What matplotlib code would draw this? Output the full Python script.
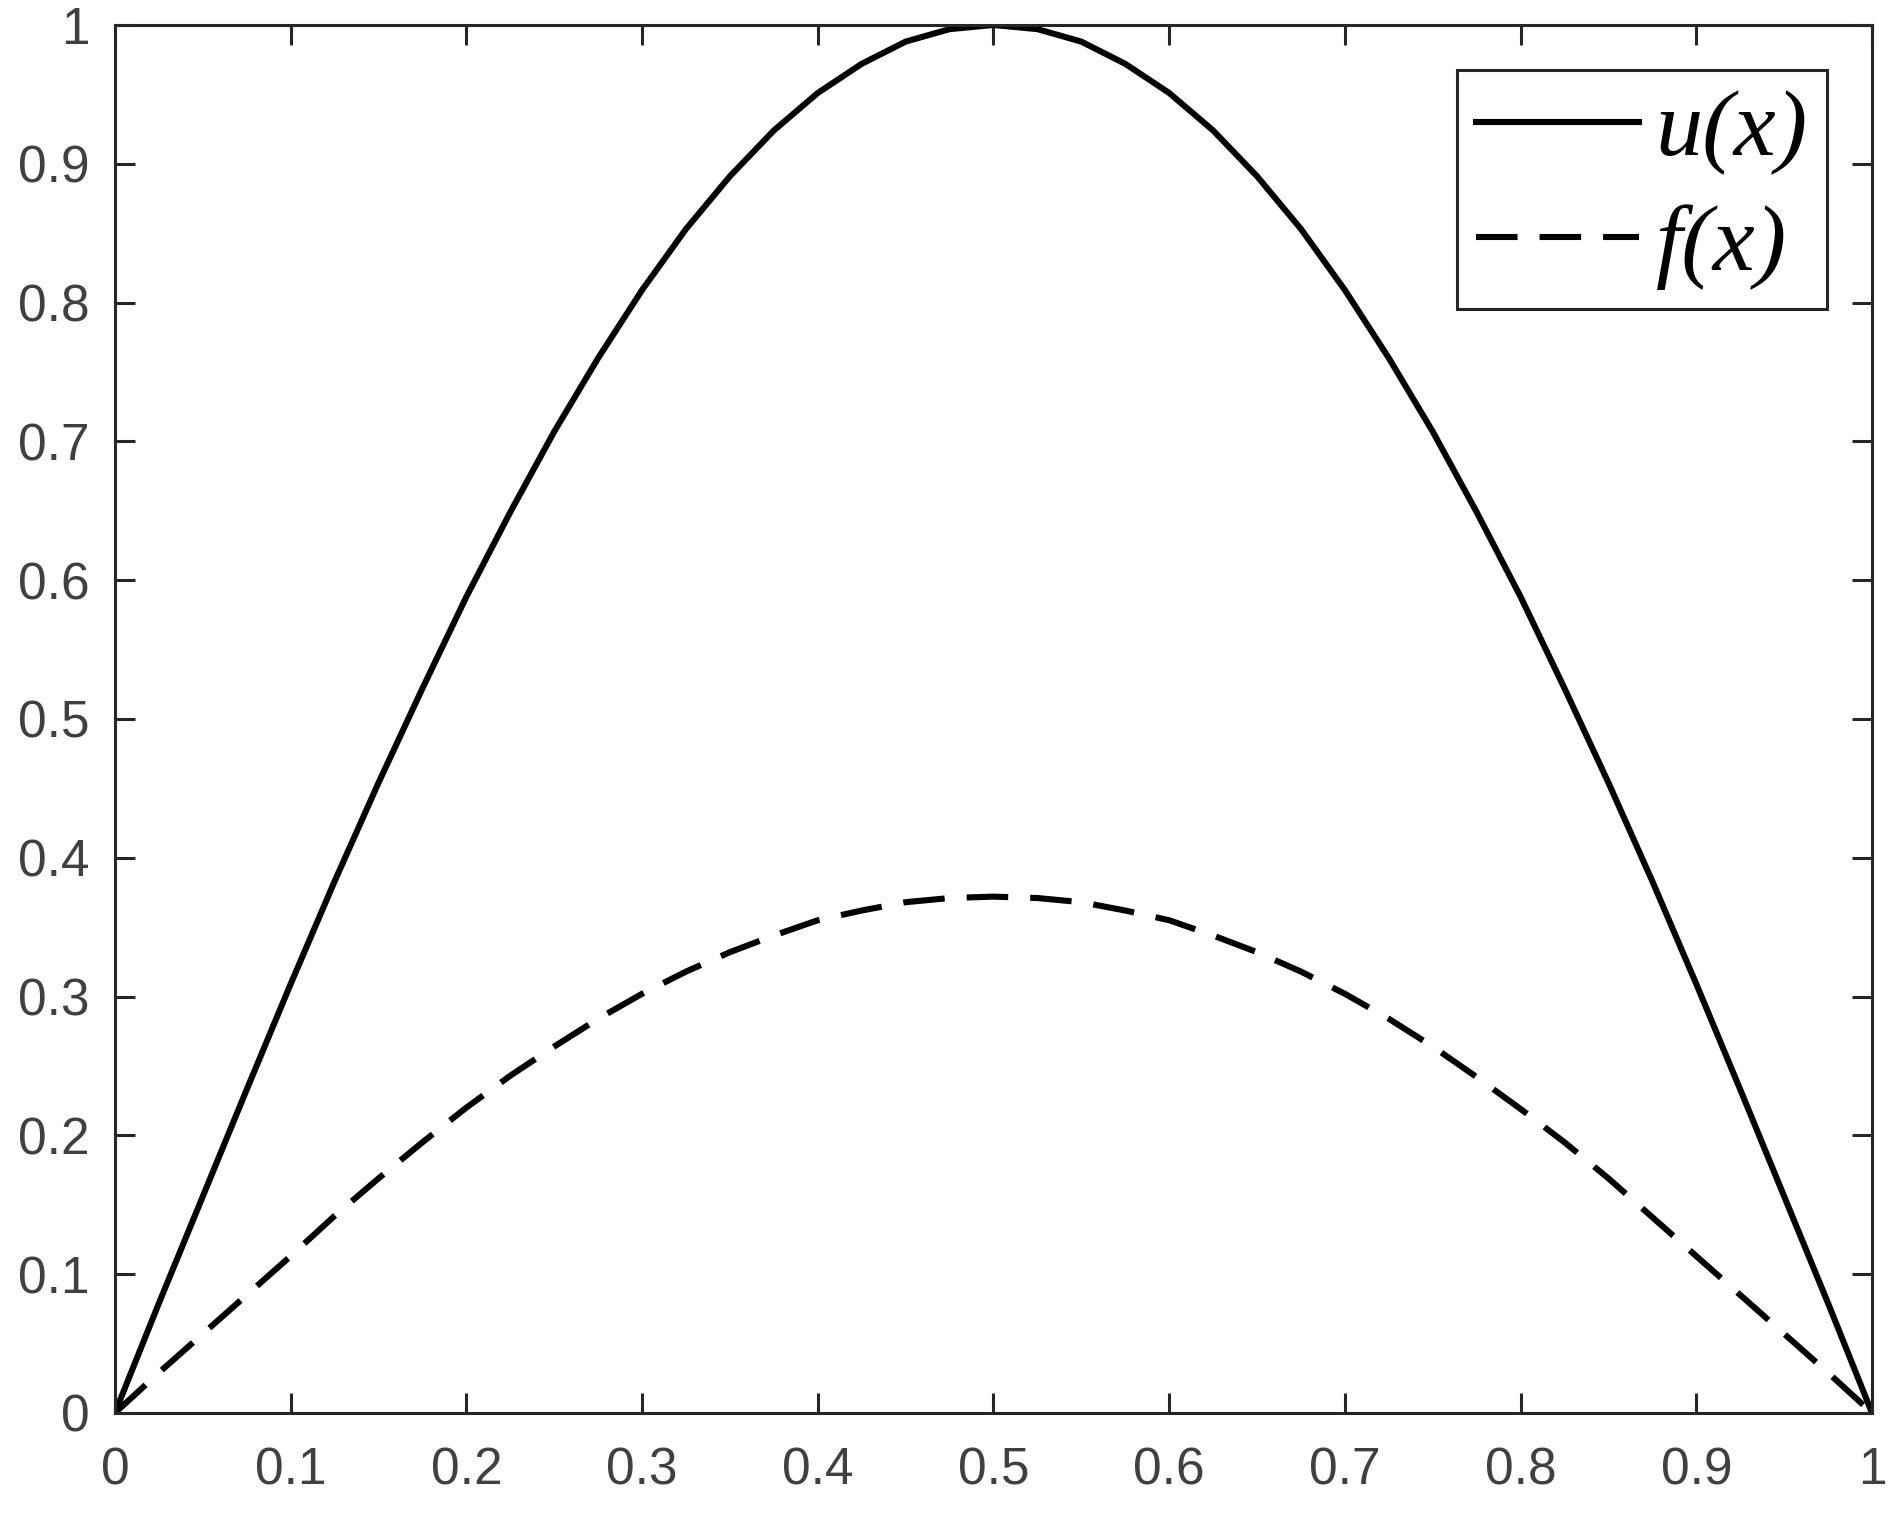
import matplotlib.pyplot as plt

# values
x_vals = [0, 0.025, 0.05, 0.075, 0.1, 0.125, 0.15, 0.175, 0.2, 0.225, 0.25,
          0.275, 0.3, 0.325, 0.35, 0.375, 0.4, 0.425, 0.45, 0.475, 0.5,
          0.525, 0.55, 0.575, 0.6, 0.625, 0.65, 0.675, 0.7, 0.725, 0.75,
          0.775, 0.8, 0.825, 0.85, 0.875, 0.9, 0.925, 0.95, 0.975, 1.0]
u_vals = [0, 0.079, 0.156, 0.233, 0.309, 0.383, 0.454, 0.522, 0.588, 0.649, 0.707,
          0.760, 0.809, 0.853, 0.891, 0.924, 0.951, 0.972, 0.988, 0.997, 1.0,
          0.997, 0.988, 0.972, 0.951, 0.924, 0.891, 0.853, 0.809, 0.760, 0.707,
          0.649, 0.588, 0.522, 0.454, 0.383, 0.309, 0.233, 0.156, 0.079, 0]
f_vals = [0, 0.029, 0.057, 0.085, 0.113, 0.142, 0.169, 0.195, 0.220, 0.243, 0.264,
          0.284, 0.302, 0.318, 0.332, 0.344, 0.355, 0.362, 0.368, 0.371, 0.372,
          0.371, 0.368, 0.362, 0.355, 0.344, 0.332, 0.318, 0.302, 0.284, 0.264,
          0.242, 0.219, 0.195, 0.169, 0.141, 0.113, 0.085, 0.057, 0.029, 0]

xticks = [0, 0.1, 0.2, 0.3, 0.4, 0.5, 0.6, 0.7, 0.8, 0.9, 1]
xtick_labels = ["0", "0.1", "0.2", "0.3", "0.4", "0.5", "0.6", "0.7", "0.8", "0.9", "1"]
yticks = [0, 0.1, 0.2, 0.3, 0.4, 0.5, 0.6, 0.7, 0.8, 0.9, 1]
ytick_labels = ["0", "0.1", "0.2", "0.3", "0.4", "0.5", "0.6", "0.7", "0.8", "0.9", "1"]

plt.rcParams["font.family"] = ["Liberation Sans", "DejaVu Sans"]

fig = plt.figure(figsize=(18.9, 15.13), dpi=100)
ax = fig.add_axes([0.0608, 0.0661, 0.9297, 0.9174])

ax.plot(x_vals, u_vals, color="black", lw=4.4, label="u(x)", solid_joinstyle="round")
ax.plot(x_vals, f_vals, color="black", lw=4.4, dashes=(6.8, 3.6), label="f(x)")

ax.set_xlim(0, 1)
ax.set_ylim(0, 1)
ax.set_xticks(xticks)
ax.set_xticklabels(xtick_labels)
ax.set_yticks(yticks)
ax.set_yticklabels(ytick_labels)

# matlab-like box with inward ticks on all sides
for s in ax.spines.values():
    s.set_linewidth(2.2)
    s.set_color("#262626")
ax.tick_params(axis="both", direction="in", length=14.4, width=2.2, color="#262626",
               top=True, right=True, labelsize=37, labelcolor="#404040")
ax.tick_params(axis="x", pad=24)
ax.tick_params(axis="y", pad=18)

leg = ax.legend(loc="upper right", prop={"family": "Liberation Serif", "style": "italic", "size": 68},
                frameon=True, fancybox=False, framealpha=1, edgecolor="#262626",
                handlelength=1.72, handletextpad=0.18, borderpad=0.2, labelspacing=0.3,
                borderaxespad=0.48)
leg.get_frame().set_linewidth(2.2)

plt.savefig("out.png", dpi=100)
